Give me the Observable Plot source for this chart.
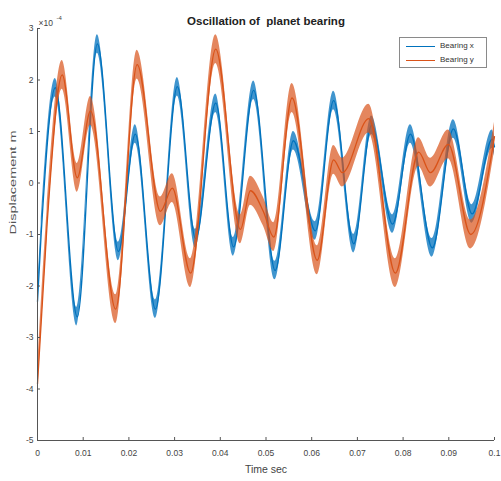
<!DOCTYPE html>
<html><head><meta charset="utf-8">
<script src="https://cdn.jsdelivr.net/npm/d3@7"></script>
<script src="https://cdn.jsdelivr.net/npm/@observablehq/plot@0.6"></script>
<style>
body{margin:0;background:#fff;font-family:"Liberation Sans",Arial,sans-serif;}
#wrap{position:relative;width:501px;height:481px;}
#legend{position:absolute;left:399px;top:37px;width:88px;height:31px;border:1px solid #8a8a8a;background:#fff;font-size:8px;color:#333;box-sizing:border-box;}
#legend .row{position:absolute;left:0;height:10px;line-height:10px;white-space:nowrap;}
#legend .sw{position:absolute;left:6px;top:5px;width:29px;height:0;border-top:1px solid;}
#legend .lb{position:absolute;left:40px;top:0;}
</style></head><body><div id="wrap"></div>
<script>
const title = "Oscillation of  planet bearing";
const seriesNames = ["Bearing x", "Bearing y"];
const xLabel = "Time sec";
const yLabel = "Displacement m";
const yExponent = "-4";

// Bearing x (blue): time (s) and displacement (x1e-4 m) at turning points
const timeX = [0, 0.0008, 0.0039, 0.0087, 0.0131, 0.0177, 0.0214, 0.0258, 0.0306, 0.0346, 0.039, 0.0429, 0.0473, 0.052, 0.056, 0.0608, 0.0648, 0.0692, 0.0731, 0.0777, 0.0816, 0.0864, 0.091, 0.0951, 0.0995, 0.1];
const dispX = [-2.3, -1.0, 1.85, -2.6, 2.7, -1.33, 0.95, -2.45, 1.87, -1.08, 1.55, -1.24, 1.8, -1.7, 0.82, -0.93, 1.6, -1.18, 1.12, -0.8, 0.95, -1.26, 1.05, -0.6, 0.85, 0.7];

// Bearing y (orange)
const timeY = [0, 0.0021, 0.0054, 0.0087, 0.0116, 0.0171, 0.0218, 0.0269, 0.0295, 0.0335, 0.039, 0.0444, 0.0466, 0.0494, 0.0517, 0.0557, 0.0612, 0.0648, 0.0667, 0.0725, 0.0783, 0.0834, 0.086, 0.0899, 0.0948, 0.1];
const dispY = [-3.9, -0.8, 2.1, 0.1, 1.4, -2.45, 2.3, -0.55, -0.1, -1.75, 2.6, -0.9, -0.15, -0.55, -1.05, 1.65, -1.5, 0.45, 0.2, 1.25, -1.75, 0.6, 0.2, 0.75, -1.0, 0.9];

// half-width of the high-frequency ripple band (x1e-4 m)
const rippleX = 0.18;
const rippleY = 0.28;

const xTicks = [0, 0.01, 0.02, 0.03, 0.04, 0.05, 0.06, 0.07, 0.08, 0.09, 0.1];
const yTicks = [-5, -4, -3, -2, -1, 0, 1, 2, 3];

const colors = ["#0072BD", "#D95319"];
const rows = [
  ...timeX.map((t, i) => ({t, v: dispX[i], a: rippleX, s: seriesNames[0]})),
  ...timeY.map((t, i) => ({t, v: dispY[i], a: rippleY, s: seriesNames[1]}))
];
const rowsX = rows.filter(d => d.s === seriesNames[0]);
const rowsY = rows.filter(d => d.s === seriesNames[1]);

const plot = Plot.plot({
  width: 501, height: 481,
  marginLeft: 37, marginRight: 7, marginTop: 28, marginBottom: 41,
  style: {fontFamily: '"Liberation Sans", Arial, sans-serif', color: "#444", background: "white", overflow: "visible"},
  x: {domain: [xTicks[0], xTicks[xTicks.length - 1]]},
  y: {domain: [yTicks[0], yTicks[yTicks.length - 1]]},
  color: {domain: seriesNames, range: colors},
  marks: [
    Plot.areaY(rowsX, {x: "t", y1: d => d.v - d.a, y2: d => d.v + d.a, fill: colors[0], fillOpacity: 0.75, curve: "monotone-x"}),
    Plot.line(rowsX, {x: "t", y: "v", stroke: colors[0], strokeWidth: 1.3, curve: "monotone-x"}),
    Plot.areaY(rowsY, {x: "t", y1: d => d.v - d.a, y2: d => d.v + d.a, fill: colors[1], fillOpacity: 0.7, curve: "monotone-x"}),
    Plot.line(rowsY, {x: "t", y: "v", stroke: colors[1], strokeWidth: 1.3, curve: "monotone-x"}),
    Plot.ruleX([xTicks[0]], {stroke: "#555"}),
    Plot.ruleY([yTicks[0]], {stroke: "#555"}),
    Plot.axisX(xTicks, {tickSize: -3, tickPadding: 12, fontSize: 8.5, label: null, tickFormat: d => String(+d.toFixed(2)), stroke: "#555"}),
    Plot.axisY(yTicks, {tickSize: -3, tickPadding: 7, fontSize: 8.5, label: null, tickFormat: d => String(d), stroke: "#555"}),
    Plot.text([title], {frameAnchor: "top", dy: -12, fontSize: 11.5, fontWeight: "bold", fill: "#222"}),
    Plot.text([xLabel], {frameAnchor: "bottom", dy: 32, fontSize: 10.5, fill: "#444"}),
    Plot.text([yLabel], {frameAnchor: "left", dx: -25, rotate: -90, fontSize: 9.5, fill: "#555", className: "ylab"}),
    Plot.text(["×10"], {frameAnchor: "top-left", textAnchor: "start", dx: 1, dy: -9, fontSize: 8.5, fill: "#444"}),
    Plot.text([yExponent], {frameAnchor: "top-left", textAnchor: "start", dx: 19, dy: -13, fontSize: 6, fill: "#444"})
  ]
});
document.getElementById("wrap").appendChild(plot);
d3.select(plot).selectAll(".ylab text").attr("textLength", 104).attr("lengthAdjust", "spacingAndGlyphs");

// legend
const lg = d3.select("#wrap").append("div").attr("id", "legend");
seriesNames.forEach((name, i) => {
  const r = lg.append("div").attr("class", "row").style("top", (3 + i * 14) + "px").style("width", "86px");
  r.append("div").attr("class", "sw").style("border-color", colors[i]);
  r.append("div").attr("class", "lb").text(name);
});
</script></body></html>
